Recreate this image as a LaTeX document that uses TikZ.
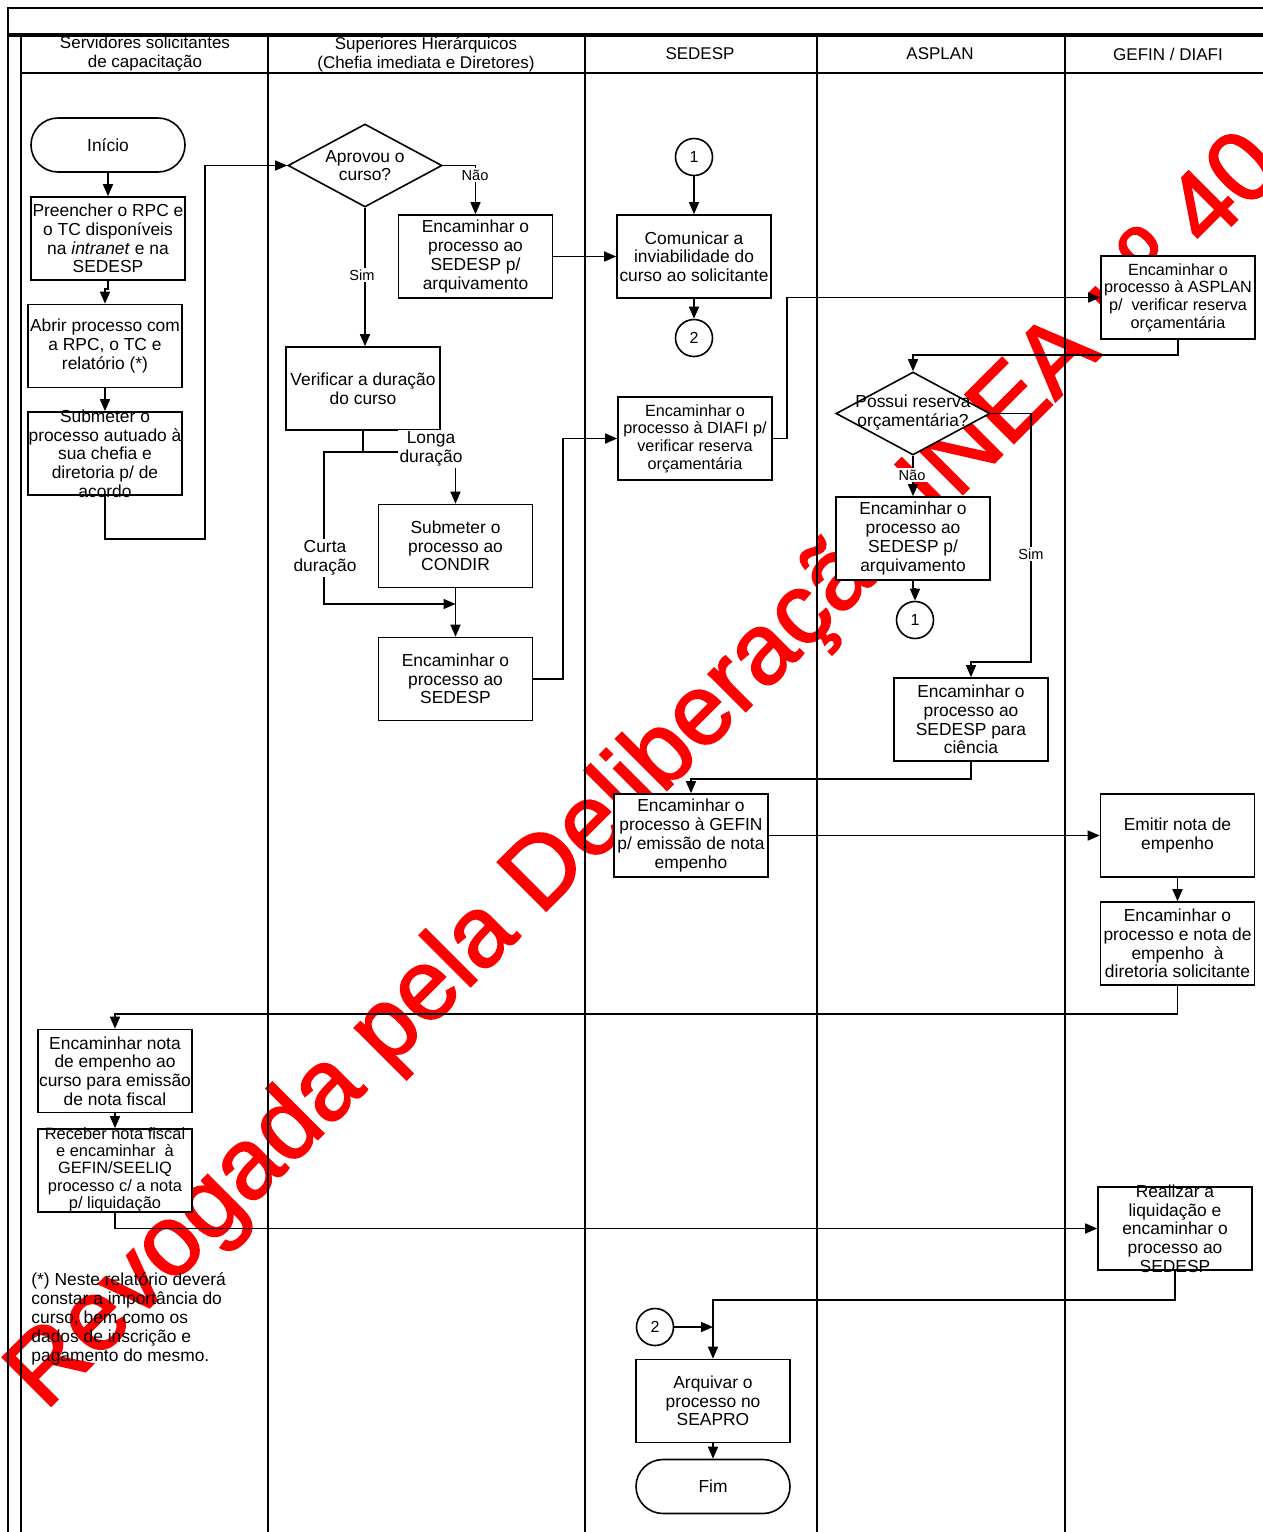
\documentclass[tikz,border=0pt]{standalone}
\usepackage{fontspec}
\setmainfont{Liberation Sans}
\newfontfamily\wmfont[FakeBold=1.8]{Liberation Sans}
\usetikzlibrary{shapes.geometric,arrows.meta}
\begin{document}
\begin{tikzpicture}[x=0.5pt,y=-0.5pt,
  every node/.style={inner sep=0pt},
  txt/.style={align=center,font=\fontsize{8.7pt}{9.35pt}\selectfont},
  smalltxt/.style={align=center,font=\fontsize{8.1pt}{8.85pt}\selectfont},
  box/.style={draw,fill=white,line width=0.8pt,minimum width=77pt,minimum height=41.5pt,align=center,font=\fontsize{8.7pt}{9.35pt}\selectfont},
  term/.style={draw,fill=white,line width=0.8pt,minimum width=77pt,minimum height=27pt,rounded corners=13.5pt,font=\fontsize{8.7pt}{9.35pt}\selectfont},
  dia/.style={draw,fill=white,diamond,line width=0.8pt,minimum width=77pt,minimum height=41.5pt},
  conn/.style={draw,fill=white,circle,line width=0.8pt,minimum size=18.5pt,font=\fontsize{8pt}{9pt}\selectfont},
  lbl/.style={fill=white,inner sep=1pt,align=center,font=\fontsize{7.3pt}{8.5pt}\selectfont},
  lbll/.style={fill=white,inner sep=1pt,align=center,font=\fontsize{8.7pt}{9.35pt}\selectfont},
  arr/.style={line width=0.75pt,-{Triangle[length=6pt,width=5pt]}},
  ln/.style={line width=0.75pt},
  lane/.style={line width=1.1pt},
  hdr/.style={align=center,font=\fontsize{8.5pt}{9.5pt}\selectfont},
]
\useasboundingbox (0,0) rectangle (1263,1532);
\clip (0,0) rectangle (1263,1532);
\fill[white] (0,0) rectangle (1263,1532);

% watermark
\node[text=red, rotate=45, anchor=base west, inner sep=0pt,
      font=\wmfont\fontsize{50pt}{60pt}\selectfont] (wm) at (45,1412)
      {Revogada pela Deliberação INEA nº 40};

% frame and lanes
\draw[line width=0.9pt] (8,1532) -- (8,8) -- (1263,8);
\draw[line width=1.6pt] (8,35) -- (1263,35);
\draw[lane] (21,35) -- (21,1532);
\draw[lane] (268,35) -- (268,1532);
\draw[lane] (585,35) -- (585,1532);
\draw[lane] (817,35) -- (817,1532);
\draw[lane] (1065,35) -- (1065,1532);
\draw[lane] (21,73) -- (1263,73);

\node[hdr] (h1) at (145,54) {Servidores solicitantes\\de capacitação};
\node[hdr] (h2) at (426,54) {Superiores Hierárquicos\\(Chefia imediata e Diretores)};
\node[hdr] (h3) at (700,54) {SEDESP};
\node[hdr] (h4) at (940,54) {ASPLAN};
\node[hdr] (h5) at (1168,54) {GEFIN / DIAFI};

% nodes
\node[term] (inicio) at (108,145) {Início};
\node[box] (preencher) at (108,238.5) {Preencher o RPC e\\o TC disponíveis\\na \textit{intranet} e na\\SEDESP};
\node[box] (abrir) at (105,346) {Abrir processo com\\a RPC, o TC e\\relatório (*)};
\node[box] (subm1) at (105,453.5) {};
\node[txt] (subm1t) at (subm1) {Submeter o\\processo autuado à\\sua chefia e\\diretoria p/ de\\acordo};

\node[dia] (aprovou) at (365,165.5) {};
\node[txt] (aprovout) at (aprovou) {Aprovou o\\curso?};
\node[box] (arq1) at (475.5,256.5) {Encaminhar o\\processo ao\\SEDESP p/\\arquivamento};
\node[box] (verif) at (363,388.5) {Verificar a duração\\do curso};
\node[box] (condir) at (455.5,546) {Submeter o\\processo ao\\CONDIR};
\node[box] (sedesp2) at (455.5,679) {Encaminhar o\\processo ao\\SEDESP};

\node[conn] (con1a) at (694,157) {1};
\node[box] (comunicar) at (694,256.5) {Comunicar a\\inviabilidade do\\curso ao solicitante};
\node[conn] (con2a) at (694,338) {2};
\node[box,smalltxt] (diafi) at (695,438.5) {Encaminhar o\\processo à DIAFI p/\\verificar reserva\\orçamentária};

\node[box,smalltxt] (asplanb) at (1178,297.5) {Encaminhar o\\processo à ASPLAN\\p/\ \ verificar reserva\\orçamentária};
\node[dia] (possui) at (913,413.5) {};
\node[txt] (possuit) at (913,412.5) {Possui reserva\\orçamentária?};
\node[box] (arq2) at (913,538.5) {Encaminhar o\\processo ao\\SEDESP p/\\arquivamento};
\node[conn] (con1b) at (915,620) {1};
\node[box] (ciencia) at (971,719.5) {Encaminhar o\\processo ao\\SEDESP para\\ciência};

\node[box] (gefinb) at (691,835.5) {Encaminhar o\\processo à GEFIN\\p/ emissão de nota\\empenho};
\node[box] (emitir) at (1177.5,835.5) {Emitir nota de\\empenho};
\node[box] (encnota) at (1177.5,943.5) {Encaminhar o\\processo e nota de\\empenho\ \ à\\diretoria solicitante};

\node[box] (encemp) at (115,1071) {Encaminhar nota\\de empenho ao\\curso para emissão\\de nota fiscal};
\node[box] (receber) at (115,1170.5) {};
\node[align=center,font=\fontsize{8.2pt}{8.65pt}\selectfont] (recebert) at (115,1169.5) {Receber nota fiscal\\e encaminhar\ \ à\\GEFIN/SEELIQ\\processo c/ a nota\\p/ liquidação};
\node[box] (realizar) at (1175,1228.5) {};
\node[txt] (realizart) at (realizar) {Realizar a\\liquidação e\\encaminhar o\\processo ao\\SEDESP};

\node[conn] (con2b) at (655,1327) {2};
\node[box] (arquivar) at (713,1401) {Arquivar o\\processo no\\SEAPRO};
\node[term] (fim) at (713,1486.5) {Fim};

\node[anchor=north west,align=left,font=\fontsize{8.7pt}{9.5pt}\selectfont] (nota) at (31,1272)
  {(*) Neste relatório deverá\\constar a importância do\\curso, bem como os\\dados de inscrição e\\pagamento do mesmo.};

% connectors
\draw[arr] (inicio) -- (preencher);
\draw[arr] (preencher.south) -- ++(0,8) -| (abrir.north);
\draw[arr] (abrir) -- (subm1);
\coordinate (c1) at (205,539);
\draw[arr] (subm1.south) |- (c1) |- (aprovou.west);
\draw[arr] (aprovou.east) -| (arq1.north);
\draw[arr] (aprovou.south) -- (aprovou.south |- verif.north);
\coordinate (j1) at (363,452);
\draw[ln] (verif.south) -- (j1);
\draw[arr] (j1) -| (condir.north);
\coordinate (j2) at (324,604);
\coordinate (j3) at (455.5,604);
\draw[arr] (j1) -| (j2) -- (j3);
\draw[arr] (condir) -- (sedesp2);
\coordinate (c3) at (563,438.5);
\draw[arr] (sedesp2.east) -| (c3) -- (diafi.west);
\draw[arr] (arq1) -- (comunicar);
\draw[arr] (con1a) -- (comunicar);
\draw[arr] (comunicar) -- (con2a);
\coordinate (c4) at (787,297.5);
\draw[arr] (diafi.east) -| (c4) -- (asplanb.west);
\coordinate (c5) at (913,355);
\draw[arr] (asplanb.south) |- (c5) -- (possui.north);
\draw[arr] (possui) -- (arq2);
\draw[arr] (arq2.south) -- ++(0,8) -| (con1b.north);
\coordinate (c6) at (1031,662);
\draw[arr] (possui.east) -| (c6) -| (ciencia.north);
\draw[arr] (ciencia.south) -- ++(0,17) -| (gefinb.north);
\draw[arr] (gefinb) -- (emitir);
\draw[arr] (emitir) -- (encnota);
\draw[arr] (encnota.south) -- ++(0,28) -| (encemp.north);
\draw[arr] (encemp) -- (receber);
\draw[arr] (receber.south) |- (realizar.west);
\draw[arr] (realizar.south) -- ++(0,29) -| (arquivar.north);
\draw[arr] (con2b.east) -- (con2b.east -| arquivar.north);
\draw[arr] (arquivar) -- (fim);

% labels
\node[lbl] (l1) at (475,175) {Não};
\node[lbl] (l2) at (362,275) {Sim};
\node[lbll] (l3) at (431,449) {Longa\\duração};
\node[lbll] (l4) at (325,558) {Curta\\duração};
\node[lbl] (l5) at (912,475) {Não};
\node[lbl] (l6) at (1031,554) {Sim};
\end{tikzpicture}
\end{document}
